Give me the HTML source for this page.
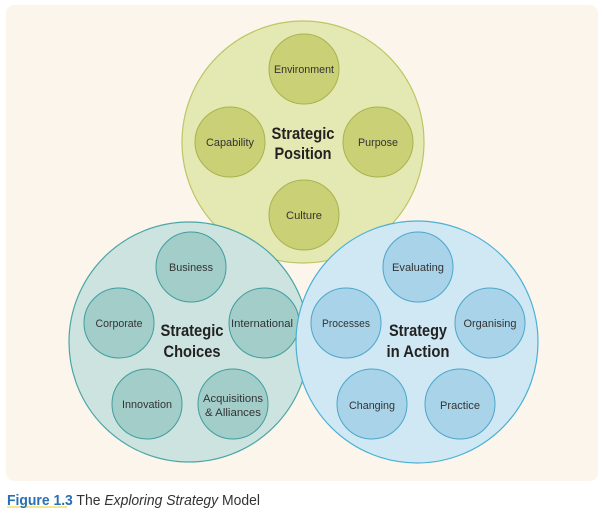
<!DOCTYPE html>
<html><head><meta charset="utf-8"><style>
html,body{margin:0;padding:0;background:#fff;}
svg{display:block;}
text{font-family:"Liberation Sans Narrow","Liberation Sans",sans-serif;fill:#333;}
.s{font-size:11px;text-anchor:middle;}
.t{font-size:17px;font-weight:bold;text-anchor:middle;fill:#222;}
</style></head><body>
<svg width="602" height="514" viewBox="0 0 602 514">
<rect x="6" y="5" width="592" height="476" rx="8" fill="#fbf5ec"/>
<!-- top -->
<circle cx="303" cy="142" r="121" fill="#e4e9b3" stroke="#bcc662" stroke-width="1.2"/>
<g fill="#c9d075" stroke="#aab24e" stroke-width="1">
<circle cx="304" cy="69" r="35"/><circle cx="230" cy="142" r="35"/>
<circle cx="378" cy="142" r="35"/><circle cx="304" cy="215" r="35"/></g>
<text class="s" x="304" y="73" textLength="60" lengthAdjust="spacingAndGlyphs">Environment</text>
<text class="s" x="230" y="146" textLength="48" lengthAdjust="spacingAndGlyphs">Capability</text>
<text class="s" x="378" y="146" textLength="40" lengthAdjust="spacingAndGlyphs">Purpose</text>
<text class="s" x="304" y="219" textLength="36" lengthAdjust="spacingAndGlyphs">Culture</text>
<text class="t" x="303" y="139" textLength="63" lengthAdjust="spacingAndGlyphs">Strategic</text>
<text class="t" x="303" y="159" textLength="57" lengthAdjust="spacingAndGlyphs">Position</text>
<!-- left -->
<circle cx="189" cy="342" r="120" fill="#cce3df" stroke="#4aa6a6" stroke-width="1.2"/>
<g fill="#a2cdc9" stroke="#3f9d9d" stroke-width="1">
<circle cx="191" cy="267" r="35"/><circle cx="119" cy="323" r="35"/>
<circle cx="264" cy="323" r="35"/><circle cx="147" cy="404" r="35"/>
<circle cx="233" cy="404" r="35"/></g>
<text class="s" x="191" y="271" textLength="44" lengthAdjust="spacingAndGlyphs">Business</text>
<text class="s" x="119" y="327" textLength="47" lengthAdjust="spacingAndGlyphs">Corporate</text>
<text class="s" x="262" y="327" textLength="62" lengthAdjust="spacingAndGlyphs">International</text>
<text class="s" x="147" y="408" textLength="50" lengthAdjust="spacingAndGlyphs">Innovation</text>
<text class="s" x="233" y="402" textLength="60" lengthAdjust="spacingAndGlyphs">Acquisitions</text>
<text class="s" x="233" y="416" textLength="56" lengthAdjust="spacingAndGlyphs">&amp; Alliances</text>
<text class="t" x="192" y="336" textLength="63" lengthAdjust="spacingAndGlyphs">Strategic</text>
<text class="t" x="192" y="357" textLength="57" lengthAdjust="spacingAndGlyphs">Choices</text>
<!-- right -->
<circle cx="417" cy="342" r="121" fill="#d0e8f3" stroke="#4ab0d6" stroke-width="1.2"/>
<g fill="#a9d3e8" stroke="#4aa6cc" stroke-width="1">
<circle cx="418" cy="267" r="35"/><circle cx="346" cy="323" r="35"/>
<circle cx="490" cy="323" r="35"/><circle cx="372" cy="404" r="35"/>
<circle cx="460" cy="404" r="35"/></g>
<text class="s" x="418" y="271" textLength="52" lengthAdjust="spacingAndGlyphs">Evaluating</text>
<text class="s" x="346" y="327" textLength="48" lengthAdjust="spacingAndGlyphs">Processes</text>
<text class="s" x="490" y="327" textLength="53" lengthAdjust="spacingAndGlyphs">Organising</text>
<text class="s" x="372" y="409" textLength="46" lengthAdjust="spacingAndGlyphs">Changing</text>
<text class="s" x="460" y="409" textLength="40" lengthAdjust="spacingAndGlyphs">Practice</text>
<text class="t" x="418" y="336" textLength="58" lengthAdjust="spacingAndGlyphs">Strategy</text>
<text class="t" x="418" y="357" textLength="63" lengthAdjust="spacingAndGlyphs">in Action</text>
<!-- caption -->
<rect x="7" y="506" width="60" height="2" fill="#f3e98a"/>
<text x="7" y="505" textLength="253" lengthAdjust="spacingAndGlyphs" style="font-family:'Liberation Sans Narrow','Liberation Sans',sans-serif;font-size:15px;"><tspan font-weight="bold" fill="#2a6fb5">Figure 1.3</tspan><tspan fill="#333"> The </tspan><tspan fill="#333" font-style="italic">Exploring Strategy</tspan><tspan fill="#333"> Model</tspan></text>
</svg>
</body></html>
